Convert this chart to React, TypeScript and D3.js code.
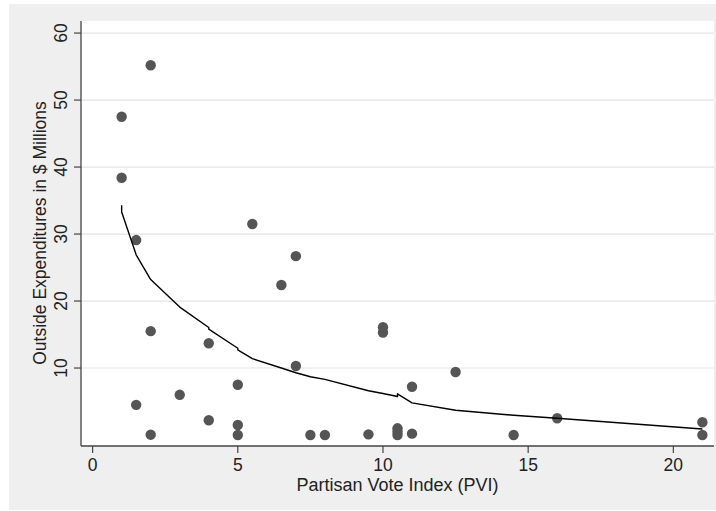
import React from 'react';
import * as d3 from 'd3';

// scatter: PVI vs outside spending ($M)
const pviValues = [1, 1, 1.5, 1.5, 2, 2, 2, 3, 4, 4, 5, 5, 5, 5.5, 6.5, 7, 7, 7.5, 8, 9.5, 10, 10, 10.5, 10.5, 10.5, 11, 11, 12.5, 14.5, 16, 21, 21];
const spendValues = [47.5, 38.4, 29.1, 4.5, 55.2, 15.5, 0.05, 6.0, 13.7, 2.2, 7.5, 1.5, 0.0, 31.5, 22.4, 26.7, 10.3, 0.0, 0.0, 0.1, 16.1, 15.3, 1.0, 0.5, 0.0, 7.2, 0.2, 9.4, 0.0, 2.5, 1.9, 0.0];

// lowess fit, as plotted
const fitPvi = [1, 1, 1.5, 2, 3, 4, 4, 5, 5, 5.5, 6.5, 7, 7.5, 8, 9.5, 10, 10.5, 10.5, 11, 12.5, 14.5, 16, 21];
const fitSpend = [34.3, 33.3, 26.9, 23.2, 19.1, 16.05, 15.8, 12.95, 12.7, 11.4, 10.0, 9.3, 8.7, 8.3, 6.6, 6.2, 5.75, 6.15, 4.8, 3.7, 2.95, 2.5, 0.9];

const xTicks = [0, 5, 10, 15, 20];
const yTicks = [10, 20, 30, 40, 50, 60];

const W = 716;
const H = 511;
const font = 'Liberation Sans, Arial, Helvetica, sans-serif';
const fs = 17.5;

export default function App() {
  const x = d3.scaleLinear().domain([-0.4, 21.4]).range([81, 714]);
  const y = d3.scaleLinear().domain([-1.64, 61.8]).range([446, 21]);

  const line = d3
    .line<number>()
    .x((d, i) => x(fitPvi[i]))
    .y((d) => y(d));

  return (
    <svg
      width={W}
      height={H}
      style={{ position: 'absolute', left: 0, top: 0 }}
      fontFamily={font}
    >
      <rect x={0} y={0} width={W} height={H} fill="#fff" />
      <rect x={9} y={4} width={W - 9} height={H - 5} fill="#efefef" />
      <rect x={81} y={21} width={633} height={425} fill="#fff" />

      {yTicks.map((t) => (
        <line key={'g' + t} x1={81} x2={714} y1={y(t)} y2={y(t)} stroke="#e3e3e3" strokeWidth={1.2} />
      ))}

      {pviValues.map((p, i) => (
        <circle key={i} cx={x(p)} cy={y(spendValues[i])} r={5.2} fill="#555" />
      ))}

      <path d={line(fitSpend) ?? ''} fill="none" stroke="#000" strokeWidth={1.4} strokeLinejoin="round" />

      {/* axes */}
      <line x1={81} x2={81} y1={21} y2={446} stroke="#444" strokeWidth={1.3} />
      <line x1={81} x2={714} y1={446} y2={446} stroke="#444" strokeWidth={1.3} />

      {xTicks.map((t) => (
        <g key={'x' + t}>
          <line x1={x(t)} x2={x(t)} y1={446} y2={453} stroke="#444" strokeWidth={1.2} />
          <text x={x(t)} y={471} textAnchor="middle" fontSize={fs} fill="#222">
            {t}
          </text>
        </g>
      ))}

      {yTicks.map((t) => (
        <g key={'y' + t}>
          <line x1={74} x2={81} y1={y(t)} y2={y(t)} stroke="#444" strokeWidth={1.2} />
          <text
            transform={`translate(67, ${y(t)}) rotate(-90)`}
            textAnchor="middle"
            fontSize={fs}
            fill="#222"
          >
            {t}
          </text>
        </g>
      ))}

      <text x={397.5} y={491} textAnchor="middle" fontSize={18} fill="#222">
        Partisan Vote Index (PVI)
      </text>
      <text
        transform={`translate(46, 233) rotate(-90)`}
        textAnchor="middle"
        fontSize={fs}
        fill="#222"
      >
        Outside Expenditures in $ Millions
      </text>
    </svg>
  );
}
